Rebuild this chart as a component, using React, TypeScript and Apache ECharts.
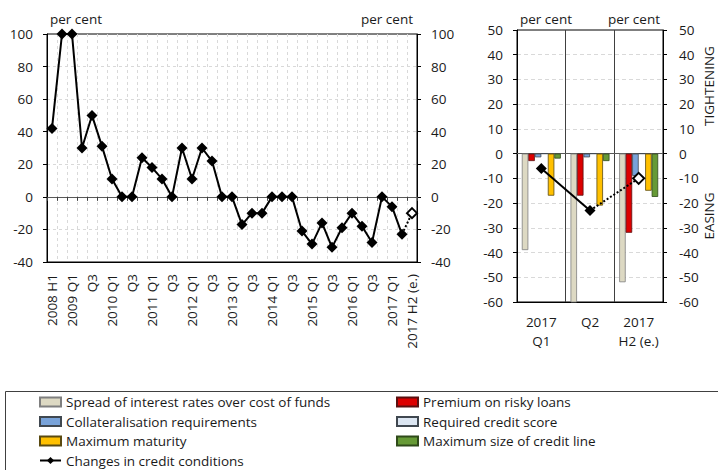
import React, { useEffect, useRef } from "react";
import * as echarts from "echarts";

// ---- Left panel: changes in credit conditions (net percentages) ----
const periods = [
  "2008 H1", "2008 H2",
  "2009 Q1", "2009 Q2", "2009 Q3", "2009 Q4",
  "2010 Q1", "2010 Q2", "2010 Q3", "2010 Q4",
  "2011 Q1", "2011 Q2", "2011 Q3", "2011 Q4",
  "2012 Q1", "2012 Q2", "2012 Q3", "2012 Q4",
  "2013 Q1", "2013 Q2", "2013 Q3", "2013 Q4",
  "2014 Q1", "2014 Q2", "2014 Q3", "2014 Q4",
  "2015 Q1", "2015 Q2", "2015 Q3", "2015 Q4",
  "2016 Q1", "2016 Q2", "2016 Q3", "2016 Q4",
  "2017 Q1", "2017 Q2", "2017 H2 (e.)",
];
const periodTickLabels = [
  "2008 H1", "",
  "2009 Q1", "", "Q3", "",
  "2010 Q1", "", "Q3", "",
  "2011 Q1", "", "Q3", "",
  "2012 Q1", "", "Q3", "",
  "2013 Q1", "", "Q3", "",
  "2014 Q1", "", "Q3", "",
  "2015 Q1", "", "Q3", "",
  "2016 Q1", "", "Q3", "",
  "2017 Q1", "", "2017 H2 (e.)",
];
const creditConditions = [
  42, 100,
  100, 30, 50, 31,
  11, 0, 0, 24,
  18, 11, 0, 30,
  11, 30, 22, 0,
  0, -17, -10, -10,
  0, 0, 0, -21,
  -29, -16, -31, -19,
  -10, -18, -28, 0,
  -6, -23, -10,
];
const leftMin = -40;
const leftMax = 100;
const leftInterval = 20;

// ---- Right panel: factors, 2017 ----
const recentPeriods = ["2017\nQ1", "Q2", "2017\nH2 (e.)"];
const spread = [-39, -65, -52];
const premium = [-3, -17, -32];
const collateral = [-1.5, -1.5, -9];
const creditScore = [0, 0, 0];
const maturity = [-17, -21, -15];
const creditLine = [-2, -3, -17.5];
const recentConditions = [-6, -23, -10];
const rightMin = -60;
const rightMax = 50;
const rightInterval = 10;

const NAME_LINE = "Changes in credit conditions";
const NAME_LINE_EST = "Changes in credit conditions (e.)";
const barSeriesDefs = [
  { name: "Spread of interest rates over cost of funds", data: spread, color: "#DDD9C3", border: "#7F7F7F" },
  { name: "Premium on risky loans", data: premium, color: "#DC0000", border: "#5a1010" },
  { name: "Collateralisation requirements", data: collateral, color: "#79A3D9", border: "#404850" },
  { name: "Required credit score", data: creditScore, color: "#DCE6F2", border: "#404850" },
  { name: "Maximum maturity", data: maturity, color: "#FFC000", border: "#5a4a10" },
  { name: "Maximum size of credit line", data: creditLine, color: "#669A36", border: "#2f4a1a" },
];

const FONT = "'Open Sans', 'DejaVu Sans', sans-serif";
const TXT = "#1a1a1a";
const FS = 13.5;

export default function App() {
  const ref = useRef<HTMLDivElement>(null);

  useEffect(() => {
    if (!ref.current) return;
    const chart = echarts.init(ref.current, null, { renderer: "svg" });

    const n = creditConditions.length;
    const leftSolid = creditConditions.map((v, i) => (i < n - 1 ? v : null));
    const leftDotted = creditConditions.map((v, i) =>
      i === n - 2
        ? { value: v, symbol: "none" }
        : i === n - 1
        ? { value: v, itemStyle: { color: "#ffffff", borderColor: "#000", borderWidth: 2 } }
        : null
    );
    const m = recentConditions.length;
    const rightSolid = recentConditions.map((v, i) => (i < m - 1 ? v : null));
    const rightDotted = recentConditions.map((v, i) =>
      i === m - 2
        ? { value: v, symbol: "none" }
        : i === m - 1
        ? { value: v, itemStyle: { color: "#ffffff", borderColor: "#000", borderWidth: 2 } }
        : null
    );

    const yAxisCommon = {
      type: "value",
      axisLine: { show: true, lineStyle: { color: "#000", width: 1 } },
      axisTick: { show: true, length: 4, lineStyle: { color: "#000" } },
      axisLabel: { color: TXT, fontFamily: FONT, fontSize: FS, margin: 14 },
    };

    const textEl = (text: string, x: number, y: number, align: string, rotation = 0) => ({
      type: "text",
      x,
      y,
      rotation,
      style: {
        text,
        fill: TXT,
        fontFamily: FONT,
        fontSize: FS,
        align,
        verticalAlign: "middle",
      },
    });

    const option: any = {
      animation: false,
      backgroundColor: "#ffffff",
      grid: [
        { left: 47, top: 34, width: 370, height: 228, show: true, borderColor: "#000", borderWidth: 1, backgroundColor: "transparent" },
        { left: 517, top: 30, width: 146, height: 272, show: true, borderColor: "#000", borderWidth: 1, backgroundColor: "transparent" },
      ],
      xAxis: [
        {
          type: "category",
          gridIndex: 0,
          position: "bottom",
          data: periods,
          boundaryGap: true,
          axisLine: { show: true, onZero: false, lineStyle: { color: "#000" } },
          axisTick: { show: false },
          axisLabel: {
            interval: 0,
            rotate: 90,
            margin: 12,
            color: TXT,
            fontFamily: FONT,
            fontSize: FS,
            formatter: (_v: string, idx: number) => periodTickLabels[idx],
          },
          splitLine: {
            show: true,
            interval: 0,
            showMinLine: false,
            showMaxLine: false,
            lineStyle: { color: "#D9D9D9", type: [3, 3], width: 1 },
          },
        },
        {
          type: "category",
          gridIndex: 0,
          position: "top",
          data: periods,
          boundaryGap: true,
          axisLine: { show: true, onZero: true, lineStyle: { color: "#595959", width: 1 } },
          axisTick: { show: true, inside: true, interval: 0, length: 4, lineStyle: { color: "#404040" } },
          axisLabel: { show: false },
          splitLine: { show: false },
        },
        {
          type: "category",
          gridIndex: 1,
          position: "bottom",
          data: recentPeriods,
          boundaryGap: true,
          axisLine: { show: true, onZero: false, lineStyle: { color: "#000" } },
          axisTick: { show: false },
          axisLabel: {
            interval: 0,
            margin: 10,
            lineHeight: 19,
            color: TXT,
            fontFamily: FONT,
            fontSize: FS,
          },
          splitLine: {
            show: true,
            interval: 0,
            showMinLine: false,
            showMaxLine: false,
            lineStyle: { color: "#404040", width: 1 },
          },
        },
        {
          type: "category",
          gridIndex: 1,
          position: "top",
          data: recentPeriods,
          boundaryGap: true,
          axisLine: { show: true, onZero: true, lineStyle: { color: "#595959", width: 1 } },
          axisTick: { show: false },
          axisLabel: { show: false },
          splitLine: { show: false },
        },
      ],
      yAxis: [
        {
          ...yAxisCommon,
          gridIndex: 0,
          position: "left",
          min: leftMin,
          max: leftMax,
          interval: leftInterval,
          splitLine: {
            show: true,
            showMinLine: false,
            showMaxLine: false,
            lineStyle: { color: "#D9D9D9", type: [3, 3] },
          },
        },
        {
          ...yAxisCommon,
          gridIndex: 0,
          position: "right",
          min: leftMin,
          max: leftMax,
          interval: leftInterval,
          splitLine: { show: false },
        },
        {
          ...yAxisCommon,
          gridIndex: 1,
          position: "left",
          min: rightMin,
          max: rightMax,
          interval: rightInterval,
          splitLine: {
            show: true,
            showMinLine: false,
            showMaxLine: false,
            lineStyle: { color: "#D9D9D9", type: [4, 3] },
          },
        },
        {
          ...yAxisCommon,
          gridIndex: 1,
          position: "right",
          min: rightMin,
          max: rightMax,
          interval: rightInterval,
          axisLabel: { ...yAxisCommon.axisLabel, margin: 16 },
          splitLine: { show: false },
        },
      ],
      legend: [
        {
          orient: "vertical",
          left: 39,
          top: 394,
          padding: 0,
          itemGap: 3.5,
          itemWidth: 21,
          itemHeight: 9,
          textStyle: { color: TXT, fontFamily: FONT, fontSize: FS, lineHeight: 16 },
          data: [
            { name: barSeriesDefs[0].name, icon: "rect" },
            { name: barSeriesDefs[2].name, icon: "rect" },
            { name: barSeriesDefs[4].name, icon: "rect" },
            { name: NAME_LINE },
          ],
        },
        {
          orient: "vertical",
          left: 396,
          top: 394,
          padding: 0,
          itemGap: 3.5,
          itemWidth: 21,
          itemHeight: 9,
          textStyle: { color: TXT, fontFamily: FONT, fontSize: FS, lineHeight: 16 },
          data: [
            { name: barSeriesDefs[1].name, icon: "rect" },
            { name: barSeriesDefs[3].name, icon: "rect" },
            { name: barSeriesDefs[5].name, icon: "rect" },
          ],
        },
      ],
      graphic: [
        textEl("per cent", 50, 19, "left"),
        textEl("per cent", 413, 19, "right"),
        textEl("per cent", 520, 19, "left"),
        textEl("per cent", 660, 19, "right"),
        textEl("TIGHTENING", 709, 86, "center", Math.PI / 2),
        textEl("EASING", 709, 216, "center", Math.PI / 2),
        {
          type: "rect",
          shape: { x: 5.5, y: 391.5, width: 800, height: 200 },
          style: { fill: "none", stroke: "#404040", lineWidth: 1 },
          silent: true,
        },
      ],
      series: [
        ...barSeriesDefs.map((s) => ({
          type: "bar",
          name: s.name,
          xAxisIndex: 2,
          yAxisIndex: 2,
          data: s.data,
          barWidth: 6.5,
          barGap: "0%",
          itemStyle: { color: s.color, borderColor: s.border, borderWidth: 0.8 },
          z: 2,
        })),
        {
          type: "line",
          name: NAME_LINE,
          xAxisIndex: 0,
          yAxisIndex: 0,
          data: leftSolid,
          symbol: "diamond",
          symbolSize: 11,
          clip: false,
          lineStyle: { color: "#000", width: 2 },
          itemStyle: { color: "#000" },
          z: 5,
        },
        {
          type: "line",
          name: NAME_LINE_EST,
          xAxisIndex: 0,
          yAxisIndex: 0,
          data: leftDotted,
          symbol: "diamond",
          symbolSize: 10,
          clip: false,
          lineStyle: { color: "#000", width: 2, type: "dotted" },
          itemStyle: { color: "#000" },
          z: 4,
        },
        {
          type: "line",
          name: NAME_LINE,
          xAxisIndex: 2,
          yAxisIndex: 2,
          data: rightSolid,
          symbol: "diamond",
          symbolSize: 11,
          lineStyle: { color: "#000", width: 2 },
          itemStyle: { color: "#000" },
          z: 5,
        },
        {
          type: "line",
          name: NAME_LINE_EST,
          xAxisIndex: 2,
          yAxisIndex: 2,
          data: rightDotted,
          symbol: "diamond",
          symbolSize: 11,
          lineStyle: { color: "#000", width: 2, type: "dotted" },
          itemStyle: { color: "#000" },
          z: 4,
        },
      ],
    };

    chart.setOption(option);
    return () => {
      chart.dispose();
    };
  }, []);

  return (
    <div
      ref={ref}
      style={{ position: "absolute", left: 0, top: 0, width: 718, height: 470, background: "#fff" }}
    />
  );
}
